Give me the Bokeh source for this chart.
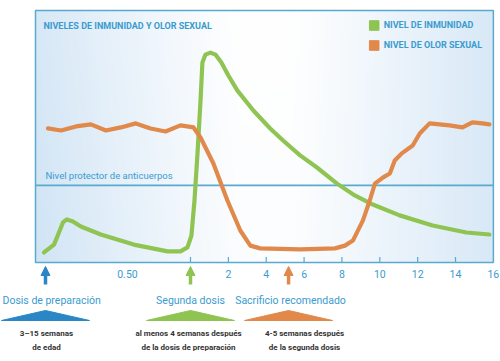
import numpy as np
from bokeh.plotting import figure
from bokeh.models import (Range1d, FixedTicker, Label, Arrow, NormalHead, Legend, LegendItem)
from bokeh.embed import file_html
from bokeh.resources import INLINE

# ---------------- data ----------------
immunity_x = [-7.74, -7.21, -6.95, -6.74, -6.53, -6.21, -5.79, -4.74, -3.0, -1.21, -0.53,
              -0.16, 0.05, 0.21, 0.37, 0.53, 0.63, 0.79, 1.05, 1.32, 1.63, 2.0, 2.47, 3.32,
              4.21, 4.89, 5.79, 6.68, 7.74, 8.68, 9.63, 11.05, 12.79, 14.58, 15.79]
immunity_y = [4.0, 7.1, 11.9, 15.9, 17.1, 16.3, 14.3, 11.1, 7.1, 4.4, 4.4,
              6.0, 10.7, 24.6, 43.3, 64.3, 79.4, 82.5, 83.3, 82.5, 79.4, 74.2, 68.3, 60.3,
              53.2, 48.4, 42.5, 37.7, 31.3, 26.6, 23.0, 18.7, 14.7, 11.9, 11.1]

odor_x = [-7.53, -6.84, -6.05, -5.26, -4.47, -3.68, -2.89, -2.11, -1.32, -0.53, 0.16,
          0.53, 1.21, 1.95, 2.63, 3.16, 3.68, 5.79, 7.63, 8.16, 8.58, 9.11, 9.47, 9.74,
          10.16, 10.53, 10.79, 11.16, 11.74, 12.11, 12.63, 13.68, 14.37, 14.89, 15.42, 15.79]
odor_y = [53.2, 52.4, 54.0, 54.8, 52.4, 53.6, 55.2, 53.2, 52.0, 54.4, 53.6,
          49.6, 39.3, 24.6, 12.7, 6.7, 5.6, 5.2, 5.6, 6.7, 8.7, 16.7, 24.6, 31.3,
          33.7, 35.3, 40.5, 43.3, 46.4, 51.2, 55.2, 54.4, 53.6, 55.6, 55.2, 54.8]

tick_positions = [-3.33, 0, 2, 4, 6, 8, 10, 12, 14, 16]
tick_labels = ["0.50", "", "2", "4", "6", "8", "10", "12", "14", "16"]
tick_mark_positions = [0, 2, 4, 6, 8, 10, 12, 14]

protective_level = 30.6

event_names = ["Dosis de preparación", "Segunda dosis", "Sacrificio recomendado"]
event_x = [-7.66, 0.0, 5.18]
event_line1 = ["3–15 semanas", "al menos 4 semanas después", "4-5 semanas después"]
event_line2 = ["de edad", "de la dosis de preparación", "de la segunda dosis"]
event_colors = ["#2b86c5", "#8fc453", "#e0894b"]

series_names = ["NIVEL DE INMUNIDAD", "NIVEL DE OLOR SEXUAL"]
series_colors = ["#8fc453", "#e0894b"]

# ---------------- layout helpers (page pixels -> data) ----------------
BLUE_TXT = "#3a9bcf"
FRAME = "#5aa9cf"
FONT = "Roboto"
W, H = 500, 361


def ux(px):
    return (px - 190) / 18.93


def vy(py):
    return (262 - py) / 2.52


PL, PR, PB, PT = ux(35), 16.0, 0.0, 100.0   # panel box

p = figure(width=W, height=H, output_backend="svg", toolbar_location=None,
           x_range=Range1d(ux(0), ux(W)), y_range=Range1d(vy(H), vy(0)),
           y_axis_type=None, min_border=0)
p.grid.visible = False
p.outline_line_color = None
p.background_fill_color = "white"
p.border_fill_color = "white"

# panel background gradient
nx, ny = 240, 120
fx = np.linspace(0, 1, nx)[None, :]
fy = np.linspace(0, 1, ny)[:, None]
b = np.clip(np.abs(fx - 0.5) * 2.2 - 0.12, 0, 1) ** 1.1 * 0.85 + 0.15 * (1 - fy) * (1 - fx)
b = np.clip(b, 0, 1)
c0 = np.array([255, 255, 255])
c1 = np.array([208, 228, 245])
img = np.empty((ny, nx), dtype=np.uint32)
view = img.view(dtype=np.uint8).reshape((ny, nx, 4))
for k in range(3):
    view[:, :, k] = (c0[k] * (1 - b) + c1[k] * b).astype(np.uint8)
view[:, :, 3] = 255
p.image_rgba(image=[img], x=PL, y=PB, dw=PR - PL, dh=PT - PB)
p.quad(left=[PL], right=[PR], bottom=[PB], top=[PT], fill_color=None,
       line_color=FRAME, line_width=1.5)

# x axis drawn along the panel bottom
ax = p.xaxis[0]
ax.fixed_location = 0
ax.ticker = FixedTicker(ticks=tick_positions)
ax.major_label_overrides = {t: l for t, l in zip(tick_positions, tick_labels)}
ax.major_tick_in = 0
ax.major_tick_out = 0
ax.minor_tick_in = 0
ax.minor_tick_out = 0
ax.axis_line_color = None
ax.major_label_text_color = BLUE_TXT
ax.major_label_text_font = FONT
ax.major_label_text_font_size = "10.5px"
ax.major_label_standoff = 7

# tick marks inside the panel
p.segment(x0=tick_mark_positions, y0=[0] * len(tick_mark_positions),
          x1=tick_mark_positions, y1=[2.2] * len(tick_mark_positions),
          line_color=FRAME, line_width=1.2)

# protective level line
p.segment(x0=[PL], y0=[protective_level], x1=[PR], y1=[protective_level],
          line_color=FRAME, line_width=1.6)
p.add_layout(Label(x=ux(45), y=protective_level + 1.6, text="Nivel protector de anticuerpos",
                   text_color=BLUE_TXT, text_font=FONT, text_font_size="9.5px",
                   text_baseline="bottom"))

# curves
p.line(immunity_x, immunity_y, line_color=series_colors[0], line_width=4.2,
       line_join="round", line_cap="round")
p.line(odor_x, odor_y, line_color=series_colors[1], line_width=4.2,
       line_join="round", line_cap="round")

# title
p.add_layout(Label(x=ux(43), y=vy(25), text="NIVELES DE INMUNIDAD Y OLOR SEXUAL",
                   text_color=BLUE_TXT, text_font=FONT, text_font_style="bold",
                   text_font_size="9px", text_baseline="middle"))

# legend with square swatches
items = []
for name, col in zip(series_names, series_colors):
    r = p.quad(left=[np.nan], right=[np.nan], bottom=[np.nan], top=[np.nan],
               fill_color=col, line_color=col)
    items.append(LegendItem(label=name, renderers=[r]))
leg = Legend(items=items, location="top_right", background_fill_alpha=0, border_line_alpha=0,
             label_text_color=BLUE_TXT, label_text_font=FONT, label_text_font_style="bold",
             label_text_font_size="9px", glyph_width=12, glyph_height=12, label_height=14,
             spacing=6, label_standoff=4, padding=5, margin=13)
p.add_layout(leg)

# events below the axis
header_x = [ux(46), 0.0, ux(290)]
note_x = [ux(46), ux(188), ux(304)]
hw = 44 / 18.93
for i, (ex, hx, nxp, name, l1, l2, col) in enumerate(zip(event_x, header_x, note_x, event_names,
                                                          event_line1, event_line2, event_colors)):
    p.add_layout(Arrow(end=NormalHead(size=9, fill_color=col, line_color=col),
                       x_start=ex, y_start=vy(284), x_end=ex, y_end=vy(266),
                       line_color=col, line_width=3.5))
    p.patch(x=[ex - hw, ex, ex + hw], y=[vy(320), vy(310), vy(320)],
            fill_color=col, line_color=col)
    if i == 0:
        p.add_layout(Label(x=ux(2), y=vy(300), text=name, text_color=BLUE_TXT, text_font=FONT,
                           text_font_size="10.5px", text_align="left", text_baseline="middle"))
    else:
        p.add_layout(Label(x=hx, y=vy(300), text=name, text_color=BLUE_TXT, text_font=FONT,
                           text_font_size="10.5px", text_align="center", text_baseline="middle"))
    p.add_layout(Label(x=nxp, y=vy(333), text=l1, text_color="#333333", text_font=FONT,
                       text_font_style="bold", text_font_size="8px", text_align="center",
                       text_baseline="middle"))
    p.add_layout(Label(x=nxp, y=vy(347), text=l2, text_color="#333333", text_font=FONT,
                       text_font_style="bold", text_font_size="8px", text_align="center",
                       text_baseline="middle"))

open("out.html", "w").write(file_html(p, INLINE))
